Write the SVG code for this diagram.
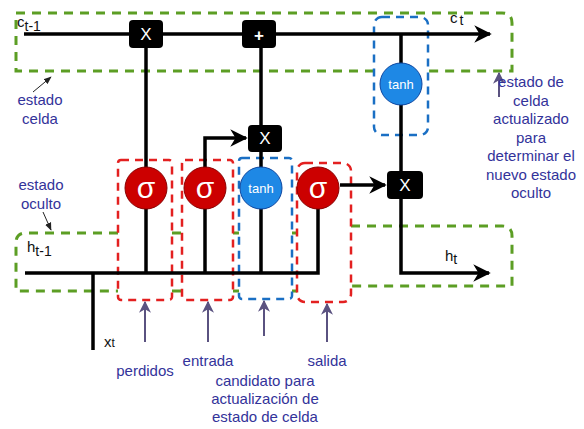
<svg xmlns="http://www.w3.org/2000/svg" width="584" height="429" viewBox="0 0 584 429">
<style>
.line{stroke:#000;stroke-width:3.5;fill:none}
.op{fill:#000}
.opt{fill:#fff;font-family:"Liberation Sans",Arial,sans-serif;font-size:17px;text-anchor:middle}
.sig{fill:#cc0000;stroke:#8a0000;stroke-width:1}
.tanh{fill:#1e88e5;stroke:#0d47a1;stroke-width:1}
.sigt{fill:#fff;font-family:"Liberation Sans",Arial,sans-serif;font-size:30px;text-anchor:middle}
.tanht{fill:#fff;font-family:"Liberation Sans",Arial,sans-serif;font-size:13px;text-anchor:middle}
.green{stroke:#5c9e24;stroke-width:3;fill:none;stroke-dasharray:9 7}
.red{stroke:#e32020;stroke-width:2.5;fill:none;stroke-dasharray:8 6}
.blue{stroke:#1a6fc4;stroke-width:2.5;fill:none;stroke-dasharray:8 6}
.lbl{fill:#33339a;font-family:"Liberation Sans",Arial,sans-serif;font-size:15px;text-anchor:middle}
.var{fill:#111;font-family:"Liberation Sans",Arial,sans-serif;font-size:15px}
.pa{stroke:#5a5280;stroke-width:2;fill:none}
.ta{stroke:#222;stroke-width:1;fill:none}
</style>
<defs>
<marker id="ah" viewBox="0 0 10 10" refX="9" refY="5" markerWidth="5" markerHeight="5" markerUnits="strokeWidth" orient="auto"><path d="M0,0 L10,5 L0,10 L3,5 z" fill="#000"/></marker>
<marker id="pah" viewBox="0 0 10 10" refX="9" refY="5" markerWidth="6" markerHeight="6" markerUnits="strokeWidth" orient="auto"><path d="M0,0 L10,5 L0,10 L3,5 z" fill="#5a5280"/></marker>
<marker id="tah" viewBox="0 0 10 10" refX="9" refY="5" markerWidth="8" markerHeight="8" markerUnits="strokeWidth" orient="auto"><path d="M0,1 L10,5 L0,9 z" fill="#222"/></marker>
</defs>

<g id="regions">
<path class="green" d="M16,13 H502 Q512,13 512,23 V71 H428 M374,71 H16 V13"/>
<path class="green" d="M118,233 H26 Q16,233 16,243 V291 H118 M172,233 H182 M172,291 H182 M233,233 H239 M233,291 H239 M292,233 H297 M292,291 H297"/>
<path class="green" d="M351,226 H502 Q512,226 512,236 V286 H351"/>
<rect class="red" x="118" y="160" width="54" height="140" rx="3"/>
<rect class="red" x="182" y="160" width="51" height="140" rx="3"/>
<rect class="blue" x="239" y="158" width="53" height="141" rx="3"/>
<rect class="red" x="297" y="163" width="54" height="139" rx="8"/>
<rect class="blue" x="374" y="17" width="54" height="118" rx="8"/>
</g>

<g id="connectors">
<line class="line" x1="24" y1="34" x2="490" y2="34" marker-end="url(#ah)"/>
<line class="line" x1="146" y1="34" x2="146" y2="273"/>
<line class="line" x1="261" y1="34" x2="261" y2="273"/>
<line class="line" x1="205" y1="273" x2="205" y2="188"/>
<polyline class="line" points="205,170 205,138 246,138" marker-end="url(#ah)"/>
<polyline class="line" points="25,273 318,273 318,188"/>
<line class="line" x1="93" y1="273" x2="93" y2="350"/>
<line class="line" x1="340" y1="185" x2="385" y2="185" marker-end="url(#ah)"/>
<polyline class="line" points="401,34 401,273 489,273" marker-end="url(#ah)"/>
<line class="pa" x1="145" y1="342" x2="145" y2="302" marker-end="url(#pah)"/>
<line class="pa" x1="208" y1="342" x2="208" y2="302" marker-end="url(#pah)"/>
<line class="pa" x1="264" y1="336" x2="264" y2="301" marker-end="url(#pah)"/>
<line class="pa" x1="327" y1="342" x2="327" y2="304" marker-end="url(#pah)"/>
<line class="pa" x1="499" y1="97" x2="499" y2="73" marker-end="url(#pah)"/>
<line class="ta" x1="33" y1="92" x2="51" y2="77" marker-end="url(#tah)"/>
<line class="ta" x1="43" y1="212" x2="51" y2="230" marker-end="url(#tah)"/>
</g>

<g id="op-mul1"><rect class="op" x="129" y="20" width="34" height="28" rx="4"/><text class="opt" x="146" y="40">X</text></g>
<g id="op-add"><rect class="op" x="242" y="20" width="34" height="28" rx="4"/><text class="opt" x="259" y="41" font-size="22" font-weight="bold">+</text></g>
<g id="op-mul2"><rect class="op" x="248" y="125" width="34" height="27" rx="4"/><text class="opt" x="265" y="144">X</text></g>
<g id="op-mul3"><rect class="op" x="387" y="171" width="36" height="28" rx="4"/><text class="opt" x="405" y="191">X</text></g>

<g id="gate-forget"><circle class="sig" cx="146" cy="188" r="21"/><text class="sigt" x="146" y="198">σ</text></g>
<g id="gate-input"><circle class="sig" cx="205" cy="188" r="21"/><text class="sigt" x="205" y="198">σ</text></g>
<g id="gate-candidate"><circle class="tanh" cx="261" cy="188" r="21"/><text class="tanht" x="261" y="193">tanh</text></g>
<g id="gate-output"><circle class="sig" cx="318" cy="188" r="21"/><text class="sigt" x="318" y="198">σ</text></g>
<g id="tanh-out"><circle class="tanh" cx="401" cy="84" r="21"/><text class="tanht" x="401" y="89">tanh</text></g>

<g id="labels">
<text class="var" x="17" y="27">c<tspan font-size="14" dy="4">t-1</tspan></text>
<text class="var" x="450" y="23">c<tspan font-size="14" dx="2" dy="2">t</tspan></text>
<text class="var" x="27" y="252">h<tspan font-size="14" dy="4">t-1</tspan></text>
<text class="var" x="445" y="261">h<tspan font-size="14" dy="3">t</tspan></text>
<text class="var" x="104" y="347">x<tspan font-size="12">t</tspan></text>
<text class="lbl"><tspan x="40" y="105">estado</tspan><tspan x="40" y="124">celda</tspan></text>
<text class="lbl"><tspan x="41" y="190">estado</tspan><tspan x="41" y="209">oculto</tspan></text>
<text class="lbl"><tspan x="531" y="87">estado de</tspan><tspan x="531" y="106">celda</tspan><tspan x="531" y="124">actualizado</tspan><tspan x="531" y="143">para</tspan><tspan x="531" y="161">determinar el</tspan><tspan x="531" y="180">nuevo estado</tspan><tspan x="531" y="198">oculto</tspan></text>
<text class="lbl" x="145" y="376">perdidos</text>
<text class="lbl" x="208" y="366">entrada</text>
<text class="lbl" x="327" y="366">salida</text>
<text class="lbl"><tspan x="265" y="386">candidato para</tspan><tspan x="265" y="404">actualización de</tspan><tspan x="265" y="422">estado de celda</tspan></text>
</g>
</svg>
